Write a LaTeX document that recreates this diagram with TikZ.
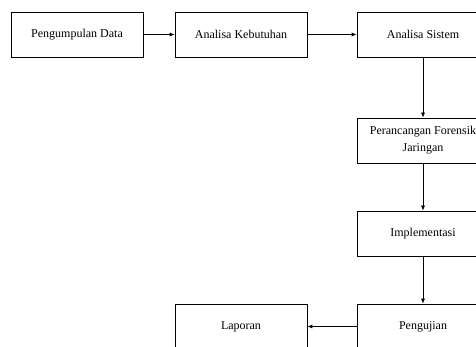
\documentclass[tikz,border=0pt]{standalone}
\usepackage{fontspec}
\setmainfont{Liberation Serif}
\usetikzlibrary{arrows.meta}

\tikzset{
  blok/.style={draw, line width=0.7pt, minimum width=132pt, minimum height=45pt,
    inner sep=2pt, align=center, font=\fontsize{12}{17}\selectfont},
  panah/.style={line width=0.7pt, -{Latex[length=5pt,width=4pt]}}
}

\begin{document}
\begin{tikzpicture}[x=1pt,y=-1pt]
\useasboundingbox (0,0) rectangle (476,347);
\clip (0,0) rectangle (476,347);
% baris atas
\node[blok] (kumpul) at (77,34.5) {Pengumpulan Data};
\node[blok] (butuh) at (241,34.5) {Analisa Kebutuhan};
\node[blok] (sistem) at (423,34.5) {Analisa Sistem};
% kolom kanan
\node[blok] (rancang) at (423,140.5) {Perancangan Forensik\\Jaringan};
\node[blok] (implement) at (423,233.5) {Implementasi};
\node[blok] (uji) at (423,326.5) {Pengujian};
\node[blok] (lapor) at (241,326.5) {Laporan};
% alur
\draw[panah] (kumpul) -- (butuh);
\draw[panah] (butuh) -- (sistem);
\draw[panah] (sistem) -- (rancang);
\draw[panah] (rancang) -- (implement);
\draw[panah] (implement) -- (uji);
\draw[panah] (uji) -- (lapor);
\end{tikzpicture}
\end{document}
